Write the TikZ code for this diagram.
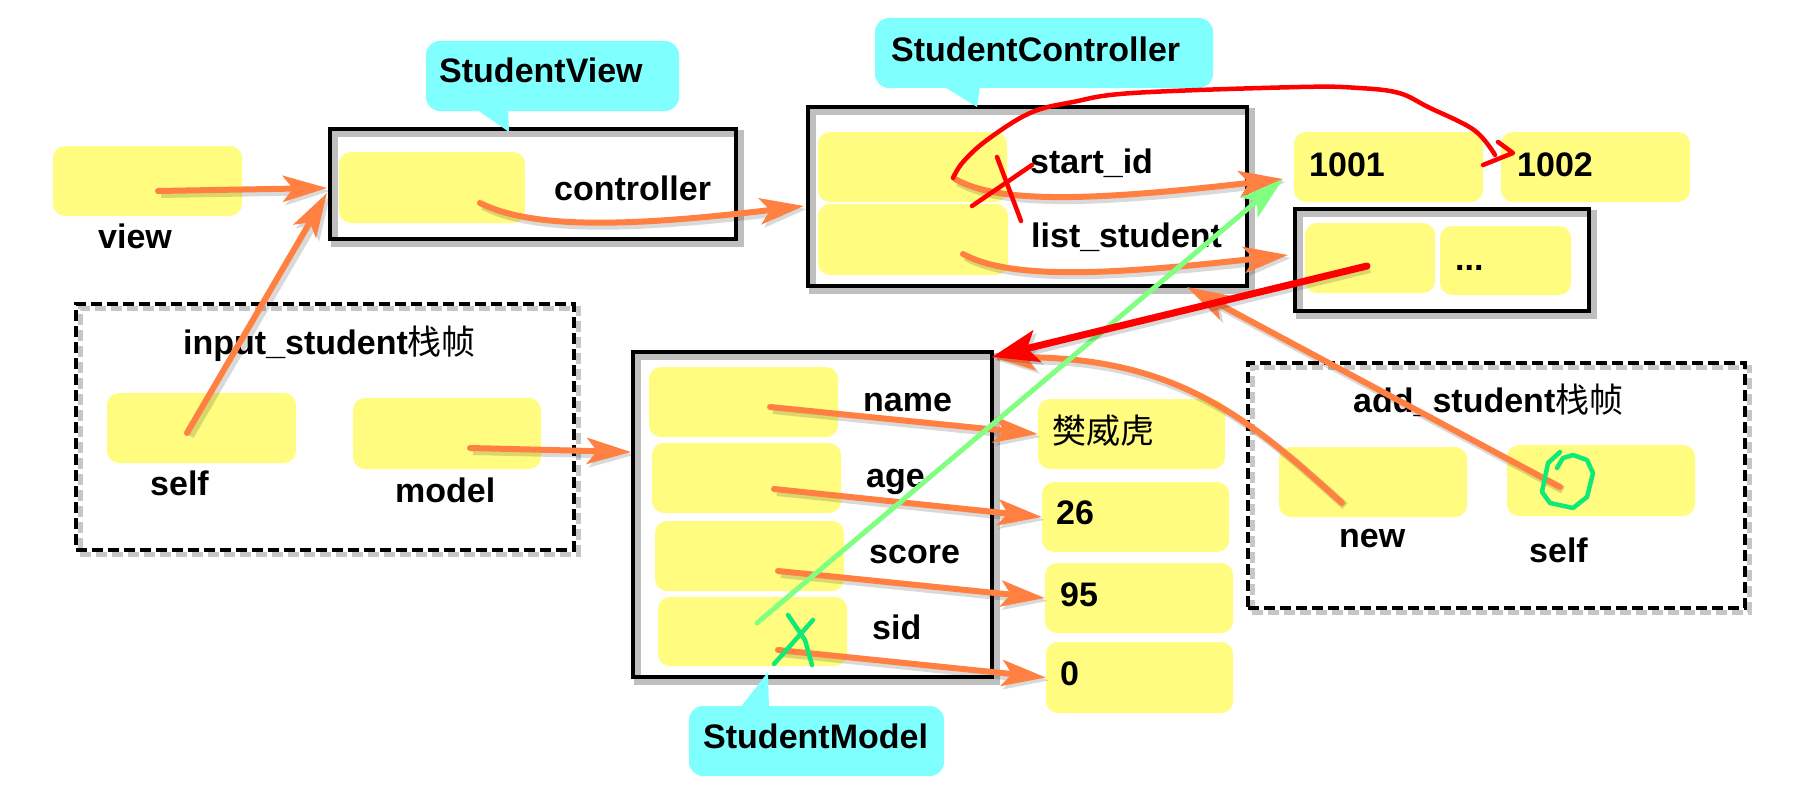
\documentclass[tikz,border=0pt]{standalone}
\usepackage{fontspec}
\setmainfont{Liberation Sans}
\newfontfamily\cjk{Noto Sans CJK SC}
\usetikzlibrary{arrows.meta,fit,calc}
\definecolor{yel}{HTML}{FFFC80}
\definecolor{cyn}{HTML}{80FFFF}
\definecolor{org}{HTML}{FF8040}
\definecolor{grn}{HTML}{80FF80}
\definecolor{gx}{HTML}{10E878}
\begin{document}
\begin{tikzpicture}[x=1pt,y=-1pt,
  font=\fontsize{34}{40}\selectfont\bfseries,
  ybox/.style={fill=yel, draw=none, rounded corners=12pt, inner sep=0pt},
  cbox/.style={fill=cyn, draw=none, rounded corners=14pt, inner sep=0pt},
  frame/.style={draw=black, line width=4.5pt, inner sep=0pt,
    preaction={draw=black, opacity=.25, line width=7pt, transform canvas={xshift=4pt,yshift=-4pt}}},
  dframe/.style={draw=black, line width=3.5pt, inner sep=0pt, dash pattern=on 11pt off 5pt,
    preaction={draw=black, opacity=.22, line width=5pt, dash pattern=on 11pt off 5pt, transform canvas={xshift=4pt,yshift=-4pt}}},
  lbl/.style={anchor=base west, inner sep=0pt},
  shd/.style={preaction={draw=black, opacity=.15, line width=8pt, transform canvas={xshift=3pt,yshift=-3pt}}},
  oarr/.style={draw=org, line width=6pt, line cap=round, shd, -{Stealth[length=44pt,width=26pt,inset=10pt]}},
  garr/.style={draw=grn, line width=5pt, line cap=round, -{Stealth[length=44pt,width=26pt,inset=10pt]}},
  rarr/.style={draw=red, line width=7pt, line cap=round, shd, -{Stealth[length=46pt,width=32pt,inset=10pt]}},
  rpen/.style={draw=red, line width=4.5pt, line cap=round, line join=round},
  gpen/.style={draw=gx, line width=4.5pt, line cap=round, line join=round}
]
\useasboundingbox (0,0) rectangle (1800,800);
\fill[white] (0,0) rectangle (1800,800);

% frames
\node[frame, fit={(330,129) (736,239)}] (sv) {};
\node[frame, fit={(808,107) (1247,286)}] (sc) {};
\node[frame, fit={(1295,209) (1589,311)}] (lst) {};
\node[frame, fit={(633,352) (992,677)}] (sm) {};
\node[dframe, fit={(76,304) (574,550)}] (fin) {};
\node[dframe, fit={(1248,363) (1745,608)}] (fadd) {};

% yellow cells
\node[ybox, fit={(53,146) (242,216)}] (view) {};
\node[ybox, fit={(339,152) (525,223)}] (svc) {};
\node[ybox, fit={(818,132) (1007,202)}] (scid) {};
\node[ybox, fit={(818,204) (1008,275)}] (scls) {};
\node[ybox, fit={(1294,132) (1483,202)}] (v1001) {};
\node[ybox, fit={(1501,132) (1690,202)}] (v1002) {};
\node[ybox, fit={(1305,223) (1435,293)}] (l1) {};
\node[ybox, fit={(1440,226) (1571,295)}] (l2) {};
\node[ybox, fit={(107,393) (296,463)}] (iself) {};
\node[ybox, fit={(353,398) (541,469)}] (imodel) {};
\node[ybox, fit={(649,367) (838,437)}] (mname) {};
\node[ybox, fit={(652,443) (841,513)}] (mage) {};
\node[ybox, fit={(655,521) (844,591)}] (mscore) {};
\node[ybox, fit={(658,597) (847,666)}] (msid) {};
\node[ybox, fit={(1038,399) (1225,469)}] (vname) {};
\node[ybox, fit={(1042,482) (1229,552)}] (vage) {};
\node[ybox, fit={(1045,563) (1233,633)}] (vscore) {};
\node[ybox, fit={(1046,642) (1233,713)}] (vsid) {};
\node[ybox, fit={(1279,447) (1467,517)}] (anew) {};
\node[ybox, fit={(1507,445) (1695,516)}] (aself) {};

% callouts
\node[cbox, fit={(426,41) (679,111)}] (cv) {};
\fill[cyn] (476,109) -- (509,132) -- (508,109) -- cycle;
\node[cbox, fit={(875,18) (1213,88)}] (cc) {};
\fill[cyn] (943,86) -- (977,107) -- (980,86) -- cycle;
\node[cbox, fit={(689,706) (944,776)}] (cm) {};
\fill[cyn] (740,708) -- (768,672) -- (769,708) -- cycle;

% texts
\node[lbl] (tcv) at (439,82) {StudentView};
\node[lbl] (tcc) at (891,62) {StudentController};
\node[lbl] (tcm) at (703,748) {StudentModel};
\node[lbl] (tview) at (98,248) {view};
\node[lbl] (tctrl) at (554,200) {controller};
\node[lbl] (tsid0) at (1030,173) {start\_id};
\node[lbl] (tls) at (1031,247) {list\_student};
\node[lbl] (t1001) at (1309,176) {1001};
\node[lbl] (t1002) at (1517,176) {1002};
\node[lbl] (tdots) at (1455,270) {...};
\node[lbl] (tfin) at (183,354) {input\_student{\cjk\mdseries 栈帧}};
\node[lbl] (tiself) at (150,495) {self};
\node[lbl] (timodel) at (395,502) {model};
\node[lbl] (tname) at (863,411) {name};
\node[lbl] (tage) at (866,487) {age};
\node[lbl] (tscore) at (869,563) {score};
\node[lbl] (tsid) at (872,639) {sid};
\node[lbl] (tvname) at (1052,443) {\cjk\mdseries 樊威虎};
\node[lbl] (tv26) at (1056,524) {26};
\node[lbl] (tv95) at (1060,606) {95};
\node[lbl] (tv0) at (1060,685) {0};
\node[lbl] (tfadd) at (1353,412) {add\_student{\cjk\mdseries 栈帧}};
\node[lbl] (tnew) at (1339,547) {new};
\node[lbl] (taself) at (1529,562) {self};

% connector end points
\coordinate (pview) at (158,191);
\coordinate (psvin) at (327,188);
\coordinate (piself) at (187,433);
\coordinate (psvin2) at (327,193);
\coordinate (pctrl) at (480,203);
\coordinate (pscin) at (804,206);
\coordinate (pid) at (955,179);
\coordinate (p1001) at (1283,179);
\coordinate (pls) at (963,254);
\coordinate (plst) at (1288,255);
\coordinate (pmodel) at (470,448);
\coordinate (psmin) at (631,452);
\coordinate (pname) at (770,407);
\coordinate (page) at (774,489);
\coordinate (pscore) at (778,571);
\coordinate (psid) at (778,650);
\coordinate (pgreen) at (757,623);
\coordinate (pl1) at (1367,266);
\coordinate (psmtr) at (992,357);
\coordinate (pnew) at (1342,503);
\coordinate (paself) at (1560,487);
\coordinate (pscbot) at (1187,287);

% orange connectors
\draw[oarr] (pview) -- (psvin);
\draw[oarr] (piself) -- (psvin2);
\draw[oarr] (pctrl) .. controls (530,228) and (620,228) .. (pscin);
\draw[oarr] (pid) .. controls (1000,205) and (1100,200) .. (p1001);
\draw[oarr] (pls) .. controls (1010,280) and (1110,275) .. (plst);
\draw[oarr] (pmodel) -- (psmin);
\draw[oarr] (pname) -- (vname.west);
\draw[oarr] (page) -- (vage.west);
\draw[oarr] (pscore) -- (vscore.west);
\draw[oarr] (psid) -- (vsid.west);
\draw[oarr] (pnew) .. controls (1250,420) and (1180,358) .. (psmtr);
\draw[oarr] (paself) -- (pscbot);

% green connector
\draw[garr] (pgreen) -- (p1001);

% red connector
\draw[rarr] (pl1) -- (psmtr);

% red hand-drawn curve start_id -> 1002 and cross
\draw[rpen] plot[smooth, tension=0.6] coordinates {(953,178) (963,162) (987,140) (1030,113) (1073,102) (1133,93) (1300,87) (1359,88) (1399,93) (1428,107) (1474,130) (1495,155)};
\draw[rpen] (1498,142) -- (1513,153) -- (1483,165);
\draw[rpen] (997,157) -- (1021,221);
\draw[rpen] (972,206) -- (1032,165);

% green cross on sid and circle around self
\draw[gpen] (788,615) -- (805,640) -- (812,665);
\draw[gpen] (813,620) -- (774,664);
\draw[gpen] (1560,452) -- (1548,463) -- (1542,492) -- (1550,503) -- (1573,508) -- (1587,497) -- (1593,473) -- (1587,460) -- (1573,455) -- (1563,458) -- (1557,468);
\end{tikzpicture}
\end{document}
